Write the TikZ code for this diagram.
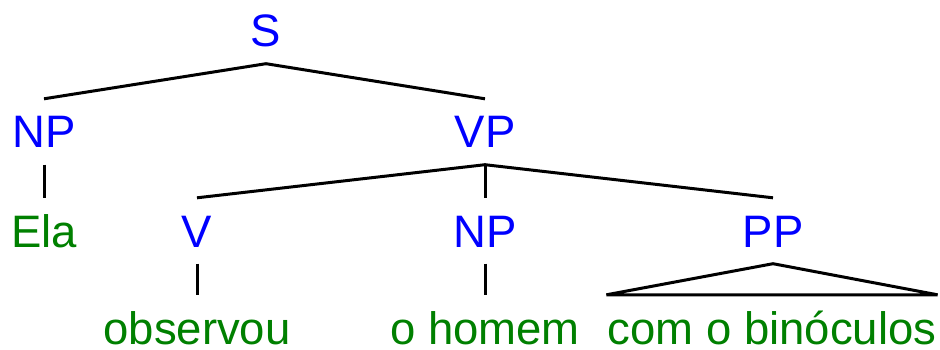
\documentclass[tikz,border=0pt]{standalone}
\usepackage{fontspec}
\setmainfont{Liberation Sans}
\begin{document}
\begin{tikzpicture}[x=1pt,y=-1pt,
  lbl/.style={anchor=base,inner xsep=1pt,inner ysep=16.5pt,text height=32.5pt,text depth=0pt,
    font=\fontsize{45.5}{54}\selectfont},
  cat/.style={lbl,text={rgb,255:red,0;green,0;blue,255}},
  word/.style={lbl,text={rgb,255:red,0;green,128;blue,0}},
  edge/.style={draw=black,line width=3pt}]
\useasboundingbox (0,0) rectangle (940,350);
\node[cat] (S) at (266,47) {S};
\node[cat] (NPa) at (44,148) {NP};
\node[cat] (VP) at (485,148) {VP};
\node[word] (Ela) at (44,247) {Ela};
\node[cat] (V) at (197,247) {V};
\node[cat] (NPb) at (485,247) {NP};
\node[cat] (PP) at (773,247) {PP};
\node[word] (obs) at (197,344) {observou};
\node[word] (hom) at (485,344) {o homem};
\node[word] (cob) at (772,344) {com o binóculos};
\draw[edge] (S.south) -- (NPa.north);
\draw[edge] (S.south) -- (VP.north);
\draw[edge] (NPa.south) -- (Ela.north);
\draw[edge] (VP.south) -- (V.north);
\draw[edge] (VP.south) -- (NPb.north);
\draw[edge] (VP.south) -- (PP.north);
\draw[edge] (V.south) -- (obs.north);
\draw[edge] (NPb.south) -- (hom.north);
\draw[edge] (PP.south) -- (cob.north west) -- (cob.north east) -- cycle;
\end{tikzpicture}
\end{document}
